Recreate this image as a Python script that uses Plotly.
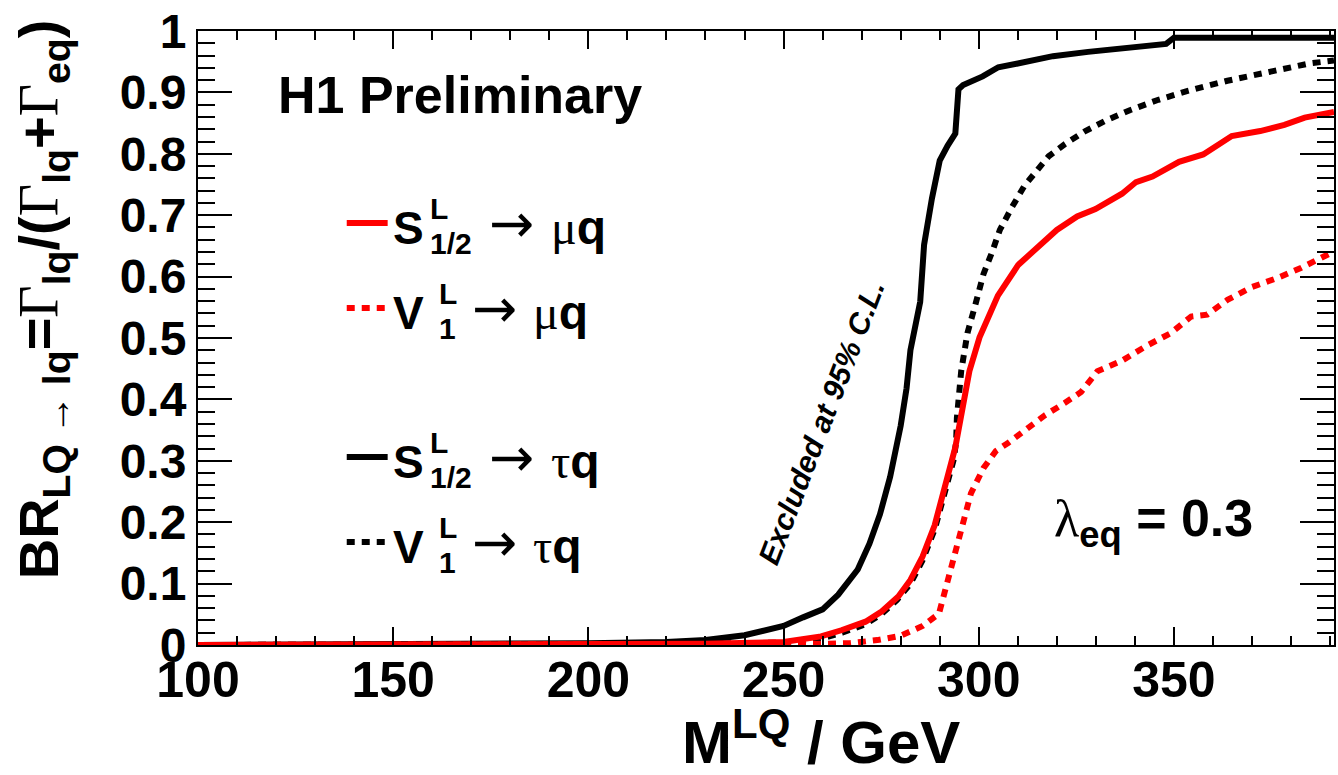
import plotly.graph_objects as go

# ---------------- data ----------------
m_s_tau = [100, 150, 200, 220, 230, 240, 250, 255, 260, 264, 269, 272, 274.7, 277.3, 280, 281.5,
           282.5, 285, 286, 288, 290, 292, 294, 294.8, 296, 301, 305, 310, 319, 328, 338, 348, 350, 391]
br_s_tau = [0, 0.001, 0.003, 0.005, 0.008, 0.016, 0.031, 0.045, 0.058, 0.082, 0.123, 0.165, 0.213,
            0.274, 0.357, 0.418, 0.48, 0.559, 0.652, 0.727, 0.789, 0.813, 0.833, 0.905, 0.912, 0.926,
            0.941, 0.947, 0.959, 0.966, 0.972, 0.979, 0.989, 0.989]

m_v_tau = [100, 150, 200, 230, 250, 260, 265, 271, 275, 279, 282.5, 285.6, 288.7, 291.3, 293.5, 294.2,
           294.4, 295.5, 297.1, 299.2, 301.2, 303.3, 305.4, 308.5, 311.7, 314.8, 317.9, 322.1, 327.3,
           332.5, 338.7, 346, 353.3, 363.7, 374.2, 384.6, 391]
br_v_tau = [0, 0, 0.001, 0.002, 0.004, 0.011, 0.02, 0.034, 0.05, 0.073, 0.1, 0.138, 0.188, 0.245, 0.3,
            0.33, 0.37, 0.446, 0.508, 0.556, 0.604, 0.638, 0.676, 0.713, 0.748, 0.772, 0.796, 0.816,
            0.837, 0.854, 0.871, 0.888, 0.902, 0.919, 0.933, 0.947, 0.952]

m_v_mu = [100, 200, 250, 260, 267, 274, 280, 285.6, 289.8, 290.8, 291.9, 294, 296, 298, 301.2, 304.4,
          307.5, 311.7, 316.9, 322, 326.2, 330.4, 336.7, 342.9, 349.2, 354.4, 358.5, 363.7, 370, 376.2,
          382.5, 391]
br_v_mu = [0, 0, 0.001, 0.002, 0.003, 0.008, 0.015, 0.031, 0.051, 0.075, 0.103, 0.158, 0.206, 0.247,
           0.288, 0.316, 0.329, 0.35, 0.374, 0.394, 0.412, 0.446, 0.463, 0.487, 0.508, 0.535, 0.538,
           0.562, 0.583, 0.597, 0.614, 0.641]

m_s_mu = [100, 150, 200, 230, 250, 259.6, 264.8, 271, 275.2, 279.4, 282.5, 285.6, 288.7, 291.3, 294,
          296, 297.6, 300.2, 304.9, 310.1, 314.8, 320, 325.2, 329.9, 336.7, 340.3, 344.5, 351.3, 357.5,
          364.8, 372.1, 378.3, 383.5, 391]
br_s_mu = [0, 0, 0.001, 0.002, 0.005, 0.014, 0.024, 0.038, 0.055, 0.079, 0.106, 0.144, 0.195, 0.254,
           0.322, 0.391, 0.446, 0.501, 0.569, 0.619, 0.645, 0.676, 0.698, 0.71, 0.735, 0.754, 0.763,
           0.787, 0.799, 0.829, 0.837, 0.847, 0.859, 0.868]

x_ticks = [100, 150, 200, 250, 300, 350]

# ---------------- layout geometry ----------------
W, H = 1338, 775
ML, MR, MT, MB = 198, 2, 31, 130
PW, PH = W - ML - MR, H - MT - MB

def px(xp):
    return (xp - ML) / PW

def py(yp):
    return (H - MB - yp) / PH

SANS = "Liberation Sans"
SERIF = "Liberation Serif"
RED = "#ff0000"
LW = 6
DASH = "8px,7px"

fig = go.Figure()
fig.add_trace(go.Scatter(x=m_s_tau, y=br_s_tau, mode="lines", line=dict(color="black", width=LW),
                         showlegend=False))
fig.add_trace(go.Scatter(x=m_v_tau, y=br_v_tau, mode="lines", line=dict(color="black", width=LW, dash=DASH),
                         showlegend=False))
fig.add_trace(go.Scatter(x=m_v_mu, y=br_v_mu, mode="lines", line=dict(color=RED, width=LW, dash=DASH),
                         showlegend=False))
fig.add_trace(go.Scatter(x=m_s_mu, y=br_s_mu, mode="lines", line=dict(color=RED, width=LW),
                         showlegend=False))

ann = []
shapes = []

def text(xp, yp, t, size, xanchor="left", yanchor="middle", angle=0, family=SANS, weight="bold", style="normal"):
    ann.append(dict(x=px(xp), y=py(yp), xref="paper", yref="paper", text=t, showarrow=False,
                    xanchor=xanchor, yanchor=yanchor, textangle=angle,
                    font=dict(family=family, size=size, color="black", weight=weight, style=style)))

greek = lambda g: f'<span style="font-family:{SERIF};font-weight:normal">{g}</span>'

# H1 Preliminary
text(460, 95, "H1 Preliminary", 52, xanchor="center")

# lambda label
text(1054, 522, greek("λ") + "<sub>eq</sub> = 0.3", 52)

# Excluded label
text(822, 422, "Excluded at 95% C.L.", 30, xanchor="center", angle=-69, style="italic")

# legend entries
legend_rows = [
    (223, RED, "solid", "S", "1/2", "μ"),
    (308, RED, DASH, "V", "1", "μ"),
    (457, "black", "solid", "S", "1/2", "τ"),
    (542, "black", DASH, "V", "1", "τ"),
]
for yc, col, dash, sym, sub, lep in legend_rows:
    shapes.append(dict(type="line", xref="paper", yref="paper", x0=px(347), x1=px(388), y0=py(yc), y1=py(yc),
                       line=dict(color=col, width=LW, dash=dash)))
    text(391, yc + 5, sym, 46)
    xs = 428 if sym == "S" else 437
    text(xs, yc - 15, "L", 30)
    text(xs, yc + 20, sub, 30)
    xa = 488 if sym == "S" else 470
    text(xa, yc, "→", 54, family="DejaVu Sans", weight="normal")
    xq = 550 if sym == "S" else 532
    text(xq, yc + 4, greek(lep) + "q", 48)

# axis titles
ytitle = ("BR<sub>LQ" + greek(" → ") + "lq</sub>=" + greek("Γ") + "<sub>lq</sub>/(" + greek("Γ")
          + "<sub>lq</sub>+" + greek("Γ") + "<sub>eq</sub>)")
text(42, 299, ytitle, 56, xanchor="center", angle=-90)
text(822, 738, "M<sup>LQ</sup> / GeV", 60, xanchor="center")

axis_common = dict(showline=True, linecolor="black", linewidth=2, mirror="allticks", ticks="inside",
                   tickcolor="black", tickwidth=2, showgrid=False, zeroline=False)

fig.update_layout(
    width=W, height=H,
    margin=dict(l=ML, r=MR, t=MT, b=MB),
    paper_bgcolor="white", plot_bgcolor="white",
    xaxis=dict(range=[100, 391], tickmode="array", tickvals=x_ticks, ticklen=18, ticklabelstandoff=-10,
               tickfont=dict(family=SANS, size=50, color="black", weight="bold"),
               minor=dict(dtick=10, tick0=100, ticklen=9, tickwidth=2, ticks="inside", tickcolor="black"),
               **axis_common),
    yaxis=dict(range=[0, 1], dtick=0.1, tick0=0, ticklen=34,
               tickfont=dict(family=SANS, size=48, color="black", weight="bold"),
               minor=dict(dtick=0.02, tick0=0, ticklen=17, tickwidth=2, ticks="inside", tickcolor="black"),
               **axis_common),
    annotations=ann,
    shapes=shapes,
    showlegend=False,
)

fig.write_html("out.html", config={"displayModeBar": False},
               post_script="document.body.style.margin='0px';document.body.style.overflow='hidden';")
